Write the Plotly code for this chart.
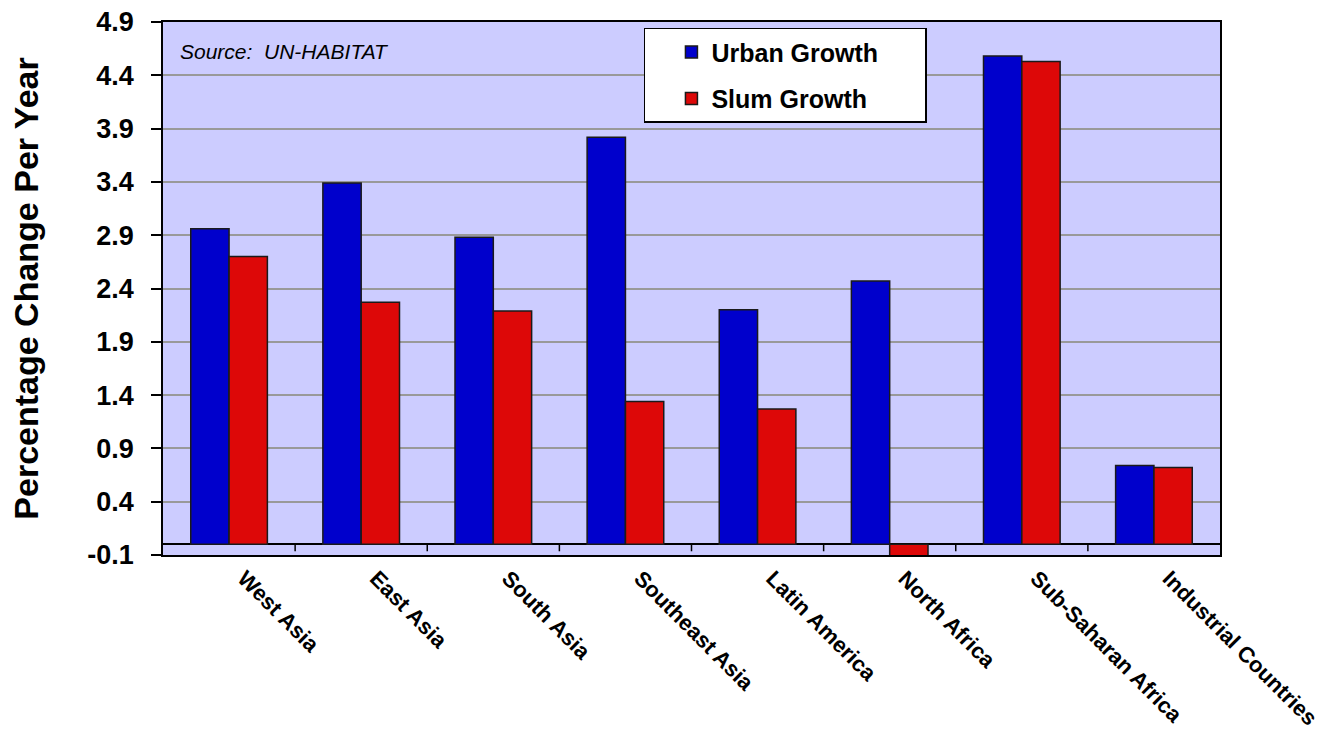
import plotly.graph_objects as go

categories = ["West Asia", "East Asia", "South Asia", "Southeast Asia",
              "Latin America", "North Africa", "Sub-Saharan Africa", "Industrial Countries"]
urban_growth = [2.96, 3.39, 2.88, 3.82, 2.20, 2.47, 4.58, 0.74]
slum_growth = [2.70, 2.27, 2.19, 1.34, 1.27, -0.13, 4.53, 0.72]
y_ticks = [-0.1, 0.4, 0.9, 1.4, 1.9, 2.4, 2.9, 3.4, 3.9, 4.4, 4.9]
y_tick_text = ["-0.1", "0.4", "0.9", "1.4", "1.9", "2.4", "2.9", "3.4", "3.9", "4.4", "4.9"]

FONT = "Liberation Sans, Arial, sans-serif"
PAD = "\u00a0\u00a0\u00a0\u00a0\u00a0\u00a0"

fig = go.Figure()
fig.add_trace(go.Bar(x=categories, y=urban_growth, name="Urban Growth" + PAD,
                     marker=dict(color="#0000CC", line=dict(color="#1a1a1a", width=1.5)),
                     legendgroup="u"))
fig.add_trace(go.Bar(x=categories, y=slum_growth, name="Slum Growth" + PAD,
                     marker=dict(color="#DD0808", line=dict(color="#1a1a1a", width=1.5)),
                     legendgroup="s"))

# category boundary tick marks on the zero line
for i in range(1, len(categories)):
    fig.add_shape(type="line", xref="x", yref="y", x0=i - 0.5, x1=i - 0.5,
                  y0=0, y1=-0.065, line=dict(color="black", width=1.5))

fig.add_annotation(text="<i>Source:\u00a0\u00a0UN-HABITAT</i>", xref="paper", yref="paper",
                   x=0.014, y=0.944, xanchor="left", yanchor="middle", showarrow=False,
                   font=dict(family=FONT, size=21, color="black"))

fig.update_layout(
    width=1322, height=729,
    margin=dict(l=163, r=102, t=22, b=174),
    paper_bgcolor="white",
    plot_bgcolor="#CCCCFF",
    barmode="group",
    bargap=0.42,
    bargroupgap=0,
    font=dict(family=FONT, color="black"),
    legend=dict(x=0.455, y=0.989, xanchor="left", yanchor="top",
                bgcolor="white", bordercolor="black", borderwidth=1.5,
                font=dict(family=FONT, size=25, color="black", weight="bold"),
                tracegroupgap=11, indentation=26),
    xaxis=dict(showgrid=False, showline=True, linecolor="black", linewidth=1.5,
               mirror=True, ticks="", tickangle=45, automargin=False,
               ticklabelshift=15,
               tickfont=dict(family=FONT, size=22, color="black", weight="bold")),
    yaxis=dict(range=[-0.1, 4.9], tickvals=y_ticks, ticktext=y_tick_text,
               automargin=False,
               showgrid=True, gridcolor="#999999", gridwidth=1.5,
               zeroline=True, zerolinecolor="black", zerolinewidth=1.5,
               showline=True, linecolor="black", linewidth=1.5, mirror=True,
               ticks="outside", ticklen=10, tickcolor="black", tickwidth=1.5,
               ticklabelstandoff=12,
               tickfont=dict(family=FONT, size=27, color="black", weight="bold"),
               title=dict(text="Percentage Change Per Year", standoff=38,
                          font=dict(family=FONT, size=34, color="black", weight="bold"))),
)

fig.write_html("out.html")
